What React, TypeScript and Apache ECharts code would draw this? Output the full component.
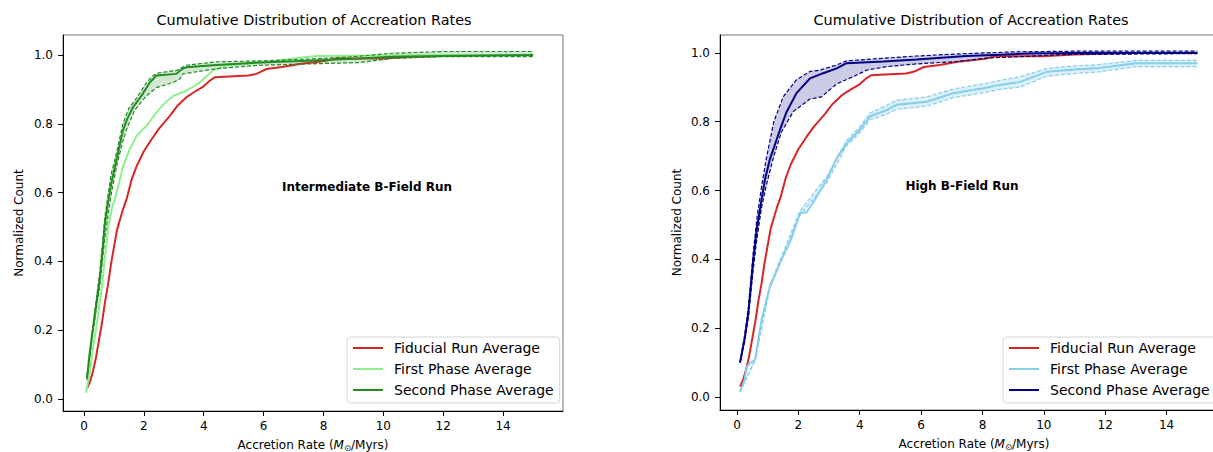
import React, { useEffect, useRef } from "react";
import * as echarts from "echarts";

// ---------- data ----------
const xTicks = [0, 2, 4, 6, 8, 10, 12, 14];
const yTicks = [0, 0.2, 0.4, 0.6, 0.8, 1.0];

const titleText = "Cumulative Distribution of Accreation Rates";
const panelLabels = ["Intermediate B-Field Run", "High B-Field Run"];
const legendNames = ["Fiducial Run Average", "First Phase Average", "Second Phase Average"];

// Fiducial run (same in both panels)
const fiducialRun = [
  [0.1, 0.03], [0.2, 0.05], [0.3, 0.08], [0.4, 0.12], [0.5, 0.17], [0.6, 0.22], [0.7, 0.28],
  [0.8, 0.33], [0.9, 0.39], [1.0, 0.44], [1.1, 0.49], [1.2, 0.52], [1.3, 0.55], [1.42, 0.58],
  [1.6, 0.64], [1.76, 0.677], [2.0, 0.72], [2.26, 0.755], [2.5, 0.785], [2.87, 0.823],
  [3.1, 0.85], [3.42, 0.877], [3.7, 0.893], [3.97, 0.907], [4.2, 0.925], [4.37, 0.935],
  [5.0, 0.938], [5.5, 0.94], [5.76, 0.945], [6.09, 0.959], [6.6, 0.965], [7.2, 0.974],
  [8.09, 0.983], [8.42, 0.99], [10, 0.99], [11, 0.995], [13, 1.0], [15, 1.0],
];

// Intermediate B-field
const firstPhaseInter = [
  [0.07, 0.018], [0.2, 0.08], [0.31, 0.152], [0.45, 0.23], [0.59, 0.318], [0.7, 0.41],
  [0.81, 0.5], [0.95, 0.56], [1.03, 0.58], [1.2, 0.638], [1.31, 0.677], [1.5, 0.72],
  [1.76, 0.765], [2.09, 0.794], [2.42, 0.833], [2.7, 0.86], [2.98, 0.881], [3.42, 0.896],
  [3.87, 0.92], [4.31, 0.955], [4.76, 0.97], [6.09, 0.978], [6.98, 0.99], [7.76, 0.997],
  [9, 0.998], [12, 1.0], [15, 1.0],
];
const secondPhaseInter = [
  [0.1, 0.06], [0.2, 0.14], [0.31, 0.21], [0.45, 0.3], [0.53, 0.35], [0.62, 0.43], [0.7, 0.51],
  [0.8, 0.57], [0.92, 0.63], [1.05, 0.68], [1.2, 0.74], [1.3, 0.78], [1.45, 0.815], [1.65, 0.85],
  [1.92, 0.881], [2.2, 0.92], [2.42, 0.94], [3.09, 0.945], [3.25, 0.958], [3.42, 0.964],
  [4.42, 0.971], [5.87, 0.978], [7.5, 0.983], [9.2, 0.99], [10.3, 0.995], [12, 0.997], [15, 1.0],
];
const secondPhaseInterUpper = [
  [0.1, 0.065], [0.31, 0.22], [0.53, 0.37], [0.7, 0.53], [0.9, 0.65], [1.1, 0.72], [1.3, 0.8],
  [1.5, 0.845], [1.81, 0.881], [2.09, 0.92], [2.31, 0.94], [2.5, 0.948], [3.09, 0.955],
  [3.42, 0.97], [4.42, 0.98], [6, 0.983], [7.5, 0.988], [9, 0.995], [10.3, 1.005], [12, 1.01],
  [15, 1.01],
];
const secondPhaseInterLower = [
  [0.1, 0.055], [0.31, 0.2], [0.53, 0.33], [0.7, 0.47], [0.9, 0.59], [1.1, 0.68], [1.3, 0.75],
  [1.45, 0.79], [1.7, 0.84], [2.07, 0.88], [2.42, 0.905], [2.98, 0.92], [3.2, 0.93],
  [3.31, 0.945], [4.42, 0.96], [5.87, 0.97], [9.2, 0.978], [10.3, 0.99], [12, 0.995], [15, 0.995],
];

// High B-field
const firstPhaseHigh = [
  [0.1, 0.015], [0.25, 0.05], [0.32, 0.088], [0.45, 0.1], [0.59, 0.108], [0.8, 0.224],
  [1.07, 0.32], [1.4, 0.389], [1.78, 0.461], [2.05, 0.534], [2.27, 0.537], [2.54, 0.573],
  [2.92, 0.631], [3.25, 0.694], [3.57, 0.737], [4.0, 0.776], [4.33, 0.815], [4.88, 0.834],
  [5.2, 0.849], [6.18, 0.858], [7.05, 0.883], [8.03, 0.897], [8.57, 0.907], [9.2, 0.915],
  [10.1, 0.945], [11, 0.952], [11.8, 0.956], [13, 0.97], [15, 0.97],
];
const firstPhaseHighUpper = [
  [0.1, 0.015], [0.59, 0.11], [1.07, 0.325], [2.05, 0.54], [2.92, 0.64], [3.57, 0.745],
  [4.0, 0.785], [4.33, 0.825], [4.88, 0.848], [5.2, 0.862], [6.18, 0.872], [7.05, 0.895],
  [8.03, 0.91], [8.57, 0.92], [9.2, 0.93], [10.1, 0.955], [11, 0.962], [11.8, 0.966],
  [13, 0.978], [15, 0.978],
];
const firstPhaseHighLower = [
  [0.1, 0.015], [0.59, 0.105], [1.07, 0.315], [2.05, 0.528], [2.92, 0.622], [3.57, 0.73],
  [4.0, 0.768], [4.33, 0.805], [4.88, 0.822], [5.2, 0.836], [6.18, 0.845], [7.05, 0.87],
  [8.03, 0.884], [8.57, 0.894], [9.2, 0.9], [10.1, 0.932], [11, 0.94], [11.8, 0.945],
  [13, 0.96], [15, 0.96],
];
const secondPhaseHigh = [
  [0.1, 0.1], [0.25, 0.17], [0.37, 0.243], [0.53, 0.398], [0.65, 0.49], [0.8, 0.573],
  [0.91, 0.631], [1.07, 0.69], [1.4, 0.776], [1.62, 0.829], [1.94, 0.883], [2.38, 0.926],
  [2.81, 0.941], [3.25, 0.955], [3.57, 0.97], [4.77, 0.975], [5.85, 0.981], [7.48, 0.991],
  [8.34, 0.994], [9.5, 0.998], [11, 1.0], [15, 1.0],
];
const secondPhaseHighUpper = [
  [0.1, 0.1], [0.25, 0.18], [0.37, 0.26], [0.53, 0.42], [0.65, 0.52], [0.8, 0.61], [0.95, 0.69],
  [1.2, 0.8], [1.51, 0.873], [1.94, 0.922], [2.38, 0.946], [2.7, 0.95], [3.25, 0.965],
  [3.57, 0.977], [5.85, 0.991], [7.2, 0.997], [9, 1.003], [11, 1.005], [15, 1.005],
];
const secondPhaseHighLower = [
  [0.1, 0.1], [0.25, 0.16], [0.37, 0.23], [0.53, 0.37], [0.65, 0.46], [0.8, 0.55], [0.97, 0.62],
  [1.2, 0.7], [1.45, 0.77], [1.84, 0.83], [2.38, 0.866], [2.75, 0.872], [3.25, 0.91],
  [3.79, 0.931], [4.23, 0.95], [4.88, 0.96], [5.85, 0.968], [7.2, 0.975], [8.13, 0.985],
  [9.5, 0.99], [10.5, 0.995], [15, 0.998],
];

// ---------- styles ----------
const FONT = "DejaVu Sans";
const RED = "#d62728";
const LIGHTGREEN = "#90ee90";
const GREEN = "#228b22";
const SKY = "#87ceeb";
const NAVY = "#000080";

function axisCommon(ticks: number[], fmt: (v: number) => string, margin: number) {
  return {
    type: "value" as const,
    splitLine: { show: false },
    axisLine: { show: true, onZero: false, lineStyle: { color: "#000", width: 1 } },
    axisTick: { show: true, length: 5, lineStyle: { color: "#000", width: 1 }, customValues: ticks },
    axisLabel: {
      customValues: ticks,
      color: "#000",
      fontSize: 12,
      fontFamily: FONT,
      margin,
      formatter: (v: number) => fmt(v),
    },
  };
}

function solid(name: string, idx: number, data: number[][], color: string, z = 3) {
  return {
    type: "line",
    name,
    xAxisIndex: idx,
    yAxisIndex: idx,
    data,
    symbol: "none",
    showSymbol: false,
    lineStyle: { color, width: 2 },
    itemStyle: { color },
    z,
    silent: true,
  };
}

function dashed(name: string, idx: number, data: number[][], color: string) {
  return {
    type: "line",
    name,
    xAxisIndex: idx,
    yAxisIndex: idx,
    data,
    symbol: "none",
    showSymbol: false,
    lineStyle: { color, width: 1.2, type: [4, 2] },
    itemStyle: { color },
    z: 3,
    silent: true,
  };
}

function band(name: string, idx: number, upper: number[][], lower: number[][], fill: string) {
  return {
    type: "custom",
    name,
    xAxisIndex: idx,
    yAxisIndex: idx,
    silent: true,
    clip: true,
    z: 1,
    data: [[0, 0]],
    renderItem: (_params: any, api: any) => {
      const pts = upper
        .map((p) => api.coord(p))
        .concat(lower.slice().reverse().map((p) => api.coord(p)));
      return { type: "polygon", shape: { points: pts }, style: { fill } };
    },
  };
}

function legendCfg(left: number, colors: string[]) {
  return {
    orient: "vertical",
    left,
    top: 337,
    itemWidth: 30,
    itemHeight: 2,
    itemGap: 7,
    padding: [4, 6, 6, 6],
    borderColor: "#d4d4d4",
    borderWidth: 1,
    borderRadius: 3,
    backgroundColor: "rgba(255,255,255,0.85)",
    selectedMode: false,
    textStyle: { fontSize: 14, lineHeight: 14, color: "#000", fontFamily: FONT, padding: [0, 0, 0, 6] },
    data: legendNames.map((n, i) => ({
      name: n,
      icon: "rect",
      itemStyle: { color: colors[i], borderWidth: 0 },
    })),
  };
}

const xName = "Accretion Rate ({i|M}{s|⊙}/Myrs)";
const xNameStyle = {
  fontSize: 12,
  color: "#000",
  fontFamily: FONT,
  lineHeight: 16,
  rich: {
    i: { fontSize: 12, fontStyle: "italic", fontFamily: FONT, color: "#000", lineHeight: 16 },
    s: { fontSize: 8.5, fontFamily: FONT, color: "#000", lineHeight: 8, verticalAlign: "bottom" },
  },
};

export default function App() {
  const ref = useRef<HTMLDivElement>(null);
  useEffect(() => {
    if (!ref.current) return;
    const chart = echarts.init(ref.current, undefined, { renderer: "svg" });
    const fx = (v: number) => String(Math.round(v));
    const fy = (v: number) => v.toFixed(1);
    const option: any = {
      animation: false,
      textStyle: { fontFamily: FONT },
      grid: [
        { left: 63, top: 35, width: 500, height: 376, show: true, borderColor: "#777", borderWidth: 1, outerBoundsMode: "none", containLabel: false },
        { left: 720, top: 35, width: 508, height: 375, show: true, borderColor: "#777", borderWidth: 1, outerBoundsMode: "none", containLabel: false },
      ],
      xAxis: [
        {
          ...axisCommon(xTicks, fx, 9),
          gridIndex: 0,
          min: -0.7,
          max: 16,
          name: xName,
          nameLocation: "middle",
          nameGap: 23,
          nameTextStyle: xNameStyle,
        },
        {
          ...axisCommon(xTicks, fx, 9),
          gridIndex: 1,
          min: -0.553,
          max: 16,
          name: xName,
          nameLocation: "middle",
          nameGap: 23,
          nameTextStyle: xNameStyle,
        },
      ],
      yAxis: [
        {
          ...axisCommon(yTicks, fy, 10),
          gridIndex: 0,
          min: -0.035,
          max: 1.058,
          name: "Normalized Count",
          nameLocation: "middle",
          nameGap: 38,
          nameTextStyle: { fontSize: 12, color: "#000", fontFamily: FONT },
        },
        {
          ...axisCommon(yTicks, fy, 10),
          gridIndex: 1,
          min: -0.038,
          max: 1.052,
          name: "Normalized Count",
          nameLocation: "middle",
          nameGap: 37,
          nameTextStyle: { fontSize: 12, color: "#000", fontFamily: FONT },
        },
      ],
      legend: [legendCfg(347, [RED, LIGHTGREEN, GREEN]), legendCfg(1003, [RED, SKY, NAVY])],
      series: [
        // left panel
        band("Second Phase Band L", 0, secondPhaseInterUpper, secondPhaseInterLower, "rgba(34,139,34,0.2)"),
        solid(legendNames[0], 0, fiducialRun, RED, 3),
        solid(legendNames[1], 0, firstPhaseInter, LIGHTGREEN, 3),
        dashed("Second Phase Upper L", 0, secondPhaseInterUpper, GREEN),
        dashed("Second Phase Lower L", 0, secondPhaseInterLower, GREEN),
        solid(legendNames[2], 0, secondPhaseInter, GREEN, 4),
        // right panel
        band("First Phase Band R", 1, firstPhaseHighUpper, firstPhaseHighLower, "rgba(135,206,235,0.3)"),
        band("Second Phase Band R", 1, secondPhaseHighUpper, secondPhaseHighLower, "rgba(0,0,128,0.2)"),
        solid(legendNames[0], 1, fiducialRun, RED, 3),
        dashed("First Phase Upper R", 1, firstPhaseHighUpper, SKY),
        dashed("First Phase Lower R", 1, firstPhaseHighLower, SKY),
        solid(legendNames[1], 1, firstPhaseHigh, SKY, 3),
        dashed("Second Phase Upper R", 1, secondPhaseHighUpper, NAVY),
        dashed("Second Phase Lower R", 1, secondPhaseHighLower, NAVY),
        solid(legendNames[2], 1, secondPhaseHigh, NAVY, 4),
      ],
      graphic: [
        {
          type: "text",
          x: 314,
          y: 20,
          style: { text: titleText, fontSize: 14.4, fontFamily: FONT, fill: "#000", align: "center", verticalAlign: "middle" },
        },
        {
          type: "text",
          x: 971,
          y: 20,
          style: { text: titleText, fontSize: 14.4, fontFamily: FONT, fill: "#000", align: "center", verticalAlign: "middle" },
        },
        {
          type: "text",
          x: 367,
          y: 187,
          style: { text: panelLabels[0], fontSize: 12, fontWeight: "bold", fontFamily: FONT, fill: "#000", align: "center", verticalAlign: "middle" },
        },
        {
          type: "text",
          x: 962,
          y: 186,
          style: { text: panelLabels[1], fontSize: 12, fontWeight: "bold", fontFamily: FONT, fill: "#000", align: "center", verticalAlign: "middle" },
        },
      ],
    };
    chart.setOption(option);
    return () => chart.dispose();
  }, []);
  return (
    <div
      ref={ref}
      style={{ position: "fixed", left: 0, top: 0, width: 1213, height: 452, background: "#fff" }}
    />
  );
}
